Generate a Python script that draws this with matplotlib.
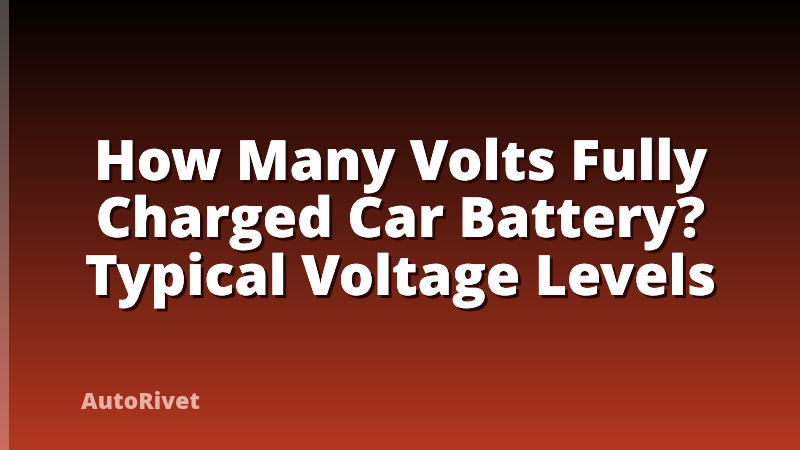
import matplotlib.pyplot as plt
import matplotlib.patheffects as pe
import numpy as np
from matplotlib.colors import LinearSegmentedColormap

title_lines = ["How Many Volts Fully", "Charged Car Battery?", "Typical Voltage Levels"]
brand = "AutoRivet"
top_color = "#050101"
bottom_color = "#b33720"

W, H = 800, 450
fig = plt.figure(figsize=(8, 4.5), dpi=100)
ax = fig.add_axes([0, 0, 1, 1])
ax.set_xlim(0, W)
ax.set_ylim(H, 0)
ax.axis("off")

# background gradient, top to bottom
cmap = LinearSegmentedColormap.from_list("bg", [top_color, bottom_color])
grad = np.linspace(0, 1, 256).reshape(-1, 1)
ax.imshow(grad, cmap=cmap, extent=[0, W, H, 0], aspect="auto", zorder=0)

# light strip on the left edge
ax.add_patch(plt.Rectangle((0, 0), 9, H, color="white", alpha=0.28, lw=0, zorder=1))

shadow = [pe.withSimplePatchShadow(offset=(2.2, -2.2), shadow_rgbFace="#2a0704", alpha=1.0),
          pe.Normal()]

baselines = [180, 237, 295]
for line, y in zip(title_lines, baselines):
  ax.text(W / 2, y, line, ha="center", va="baseline", color="white",
          fontsize=40, fontweight=800, family="Open Sans",
          path_effects=shadow, zorder=3)

ax.text(81, 409, brand, ha="left", va="baseline", color="#e8b0a5",
        fontsize=16.5, fontweight=800, family="Open Sans", zorder=3)

fig.savefig("out.png", dpi=100)
